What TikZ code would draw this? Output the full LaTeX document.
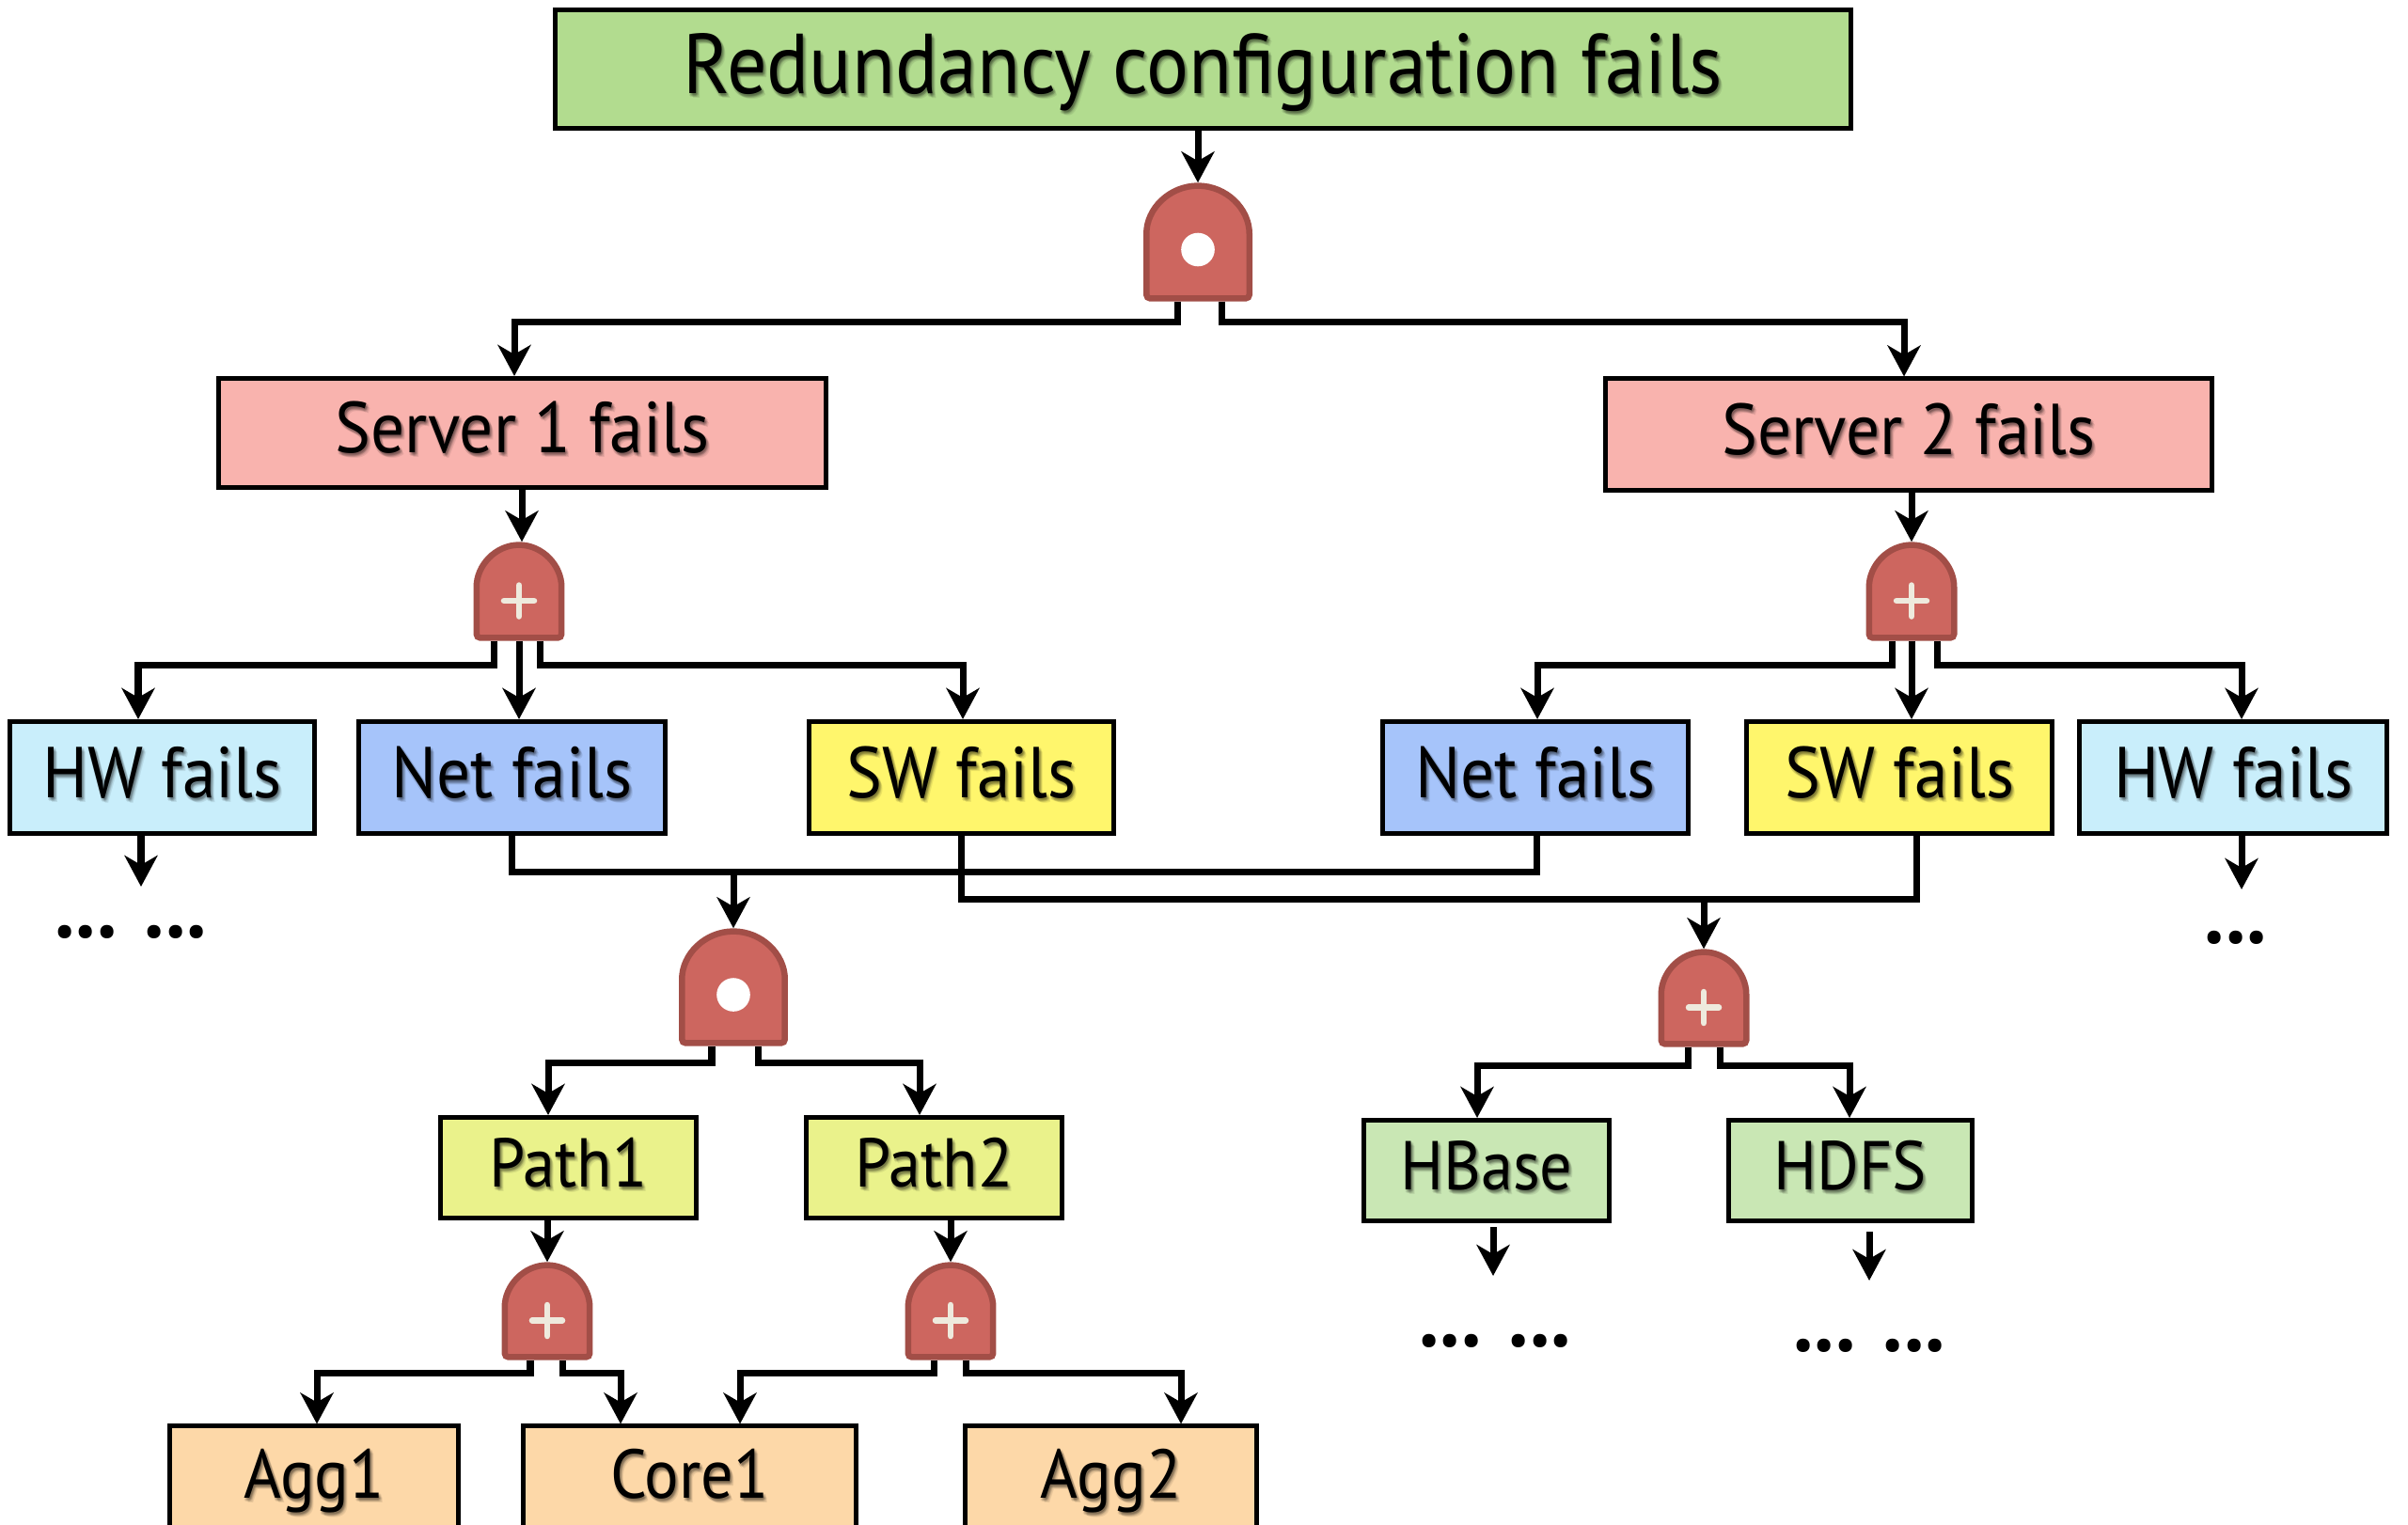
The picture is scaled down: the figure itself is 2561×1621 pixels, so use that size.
\documentclass[tikz,border=0pt]{standalone}
\usepackage{fontspec}
\setmainfont{PT Sans}[FakeStretch=0.93]
\usetikzlibrary{arrows.meta,calc}

\definecolor{cTop}{HTML}{B2DC8F}
\definecolor{cServer}{HTML}{F9B3AE}
\definecolor{cHW}{HTML}{C9EEFB}
\definecolor{cNet}{HTML}{A6C4FA}
\definecolor{cSW}{HTML}{FFF66C}
\definecolor{cPath}{HTML}{EAF28B}
\definecolor{cApp}{HTML}{C9E7B4}
\definecolor{cSwitch}{HTML}{FDD8A8}
\definecolor{cGate}{HTML}{CD665F}
\definecolor{cGateEdge}{HTML}{A24E47}
\definecolor{cPlus}{HTML}{EEEADD}

\tikzset{
  box/.style={draw=black, line width=0.05cm, inner sep=0pt,
    text height=16pt, text depth=4pt,
    font=\fontsize{21.8}{26}\selectfont},
  bigbox/.style={box, text height=18.8pt, text depth=4pt,
    font=\fontsize{25.7}{30}\selectfont},
  smallbox/.style={box, text height=15.4pt, text depth=4pt,
    font=\fontsize{20.9}{25}\selectfont},
  gatenode/.style={draw=none, fill=none, inner sep=0pt},
  wire/.style={line width=0.07cm},
  arr/.style={wire, -{Stealth[length=0.33cm,width=0.35cm,inset=0.1cm]}},
  gatebody/.style={fill=cGate, draw=cGateEdge, line width=0.065cm, rounded corners=0.04cm},
  plusbar/.style={draw=cPlus, line width=0.065cm, line cap=round},
  dots/.style={inner sep=0pt, font=\bfseries\fontsize{26.5}{30}\selectfont},
}

% labelled box with a soft drop shadow under its text
\newcommand\tnode[4]{%
  \node[#1] (#2) at #3 {#4};
  \foreach \dx/\dy [count=\k] in {1/2,2/3,3/4,2/1,0/3,3/2,1/4,4/5}
    \node[#1, draw=none, fill=none, text=black, text opacity=0.08]
      (#2-sh\k) at ([shift={(\dx*0.01cm,-\dy*0.01cm)}]#2.center) {#4};
}

% gate body: #1 name, #2 centre, #3 width (cm), #4 height (cm), #5 arch height (cm)
\newcommand\gatebody[5]{%
  \node[gatenode, minimum width=#3cm, minimum height=#4cm] (#1) at #2 {};
  \pgfmathsetmacro\gx{#3/2-0.033}%
  \pgfmathsetmacro\gy{#5-0.033}%
  \path[gatebody]
    ([shift={(-\gx cm,0.033cm)}]#1.south)
    -- ([shift={(-\gx cm,-#5cm)}]#1.north)
    arc[start angle=180, end angle=0, x radius=\gx cm, y radius=\gy cm]
    -- ([shift={(\gx cm,0.033cm)}]#1.south) -- cycle;
}
\newcommand\andgate[5]{%
  \gatebody{#1}{#2}{#3}{#4}{#5}%
  \fill[white] ([yshift=-0.08cm]#1.center) circle[radius=0.178cm];
}
\newcommand\orgate[5]{%
  \gatebody{#1}{#2}{#3}{#4}{#5}%
  \draw[plusbar] ([shift={(-0.16cm,-0.1cm)}]#1.center) -- ([shift={(0.16cm,-0.1cm)}]#1.center);
  \draw[plusbar] ([shift={(0cm,0.065cm)}]#1.center) -- ([shift={(0cm,-0.265cm)}]#1.center);
}

\begin{document}
\begin{tikzpicture}[x=0.01cm, y=-0.01cm]
\useasboundingbox (0,0) rectangle (2561,1621);
\clip (0,0) rectangle (2561,1621);

% boxes
\tnode{bigbox, fill=cTop, minimum width=13.77cm, minimum height=1.26cm}{top}{(1279.5,73.5)}{Redundancy configuration fails}
\tnode{box, fill=cServer, minimum width=6.45cm, minimum height=1.16cm}{s1}{(555.5,460.5)}{Server 1 fails}
\tnode{box, fill=cServer, minimum width=6.44cm, minimum height=1.18cm}{s2}{(2030,462)}{Server 2 fails}

\tnode{box, fill=cHW, minimum width=3.24cm, minimum height=1.19cm}{hw1}{(172.5,827)}{HW fails}
\tnode{box, fill=cNet, minimum width=3.25cm, minimum height=1.19cm}{net1}{(544.5,827)}{Net fails}
\tnode{box, fill=cSW, minimum width=3.23cm, minimum height=1.19cm}{sw1}{(1022.5,827)}{SW fails}
\tnode{box, fill=cNet, minimum width=3.24cm, minimum height=1.19cm}{net2}{(1633,827)}{Net fails}
\tnode{box, fill=cSW, minimum width=3.24cm, minimum height=1.19cm}{sw2}{(2020,827)}{SW fails}
\tnode{box, fill=cHW, minimum width=3.26cm, minimum height=1.19cm}{hw2}{(2375,827)}{HW fails}

\tnode{smallbox, fill=cPath, minimum width=2.72cm, minimum height=1.07cm}{p1}{(604.5,1242)}{Path1}
\tnode{smallbox, fill=cPath, minimum width=2.72cm, minimum height=1.07cm}{p2}{(993.5,1242)}{Path2}
\tnode{smallbox, fill=cApp, minimum width=2.60cm, minimum height=1.07cm}{hb}{(1581,1245)}{HBase}
\tnode{smallbox, fill=cApp, minimum width=2.58cm, minimum height=1.07cm}{hd}{(1968,1245)}{HDFS}

\tnode{smallbox, fill=cSwitch, minimum width=3.06cm, minimum height=1.13cm}{agg1}{(334,1573.5)}{Agg1}
\tnode{smallbox, fill=cSwitch, minimum width=3.53cm, minimum height=1.13cm}{core1}{(733.5,1573.5)}{Core1}
\tnode{smallbox, fill=cSwitch, minimum width=3.09cm, minimum height=1.13cm}{agg2}{(1181.5,1573.5)}{Agg2}

% gates
\andgate{g1}{(1274,257.5)}{1.16}{1.25}{0.58}
\orgate{g2}{(552,629)}{0.97}{1.04}{0.52}
\orgate{g3}{(2033,629)}{0.97}{1.04}{0.52}
\andgate{g4}{(780,1050)}{1.16}{1.24}{0.58}
\orgate{g5}{(1812,1061.5)}{0.97}{1.03}{0.52}
\orgate{g6}{(582,1394.5)}{0.97}{1.03}{0.52}
\orgate{g7}{(1011,1394.5)}{0.97}{1.03}{0.52}

% top level
\draw[arr] (top.south -| g1.north) -- (g1.north);
\draw[arr] ([xshift=-0.22cm]g1.south) -- ++(0,22) -| (547,0 |- s1.north);
\draw[arr] ([xshift=0.25cm]g1.south) -- ++(0,22) -| (2025,0 |- s2.north);

% server 1
\draw[arr] (555,0 |- s1.south) -- (555,0 |- g2.north);
\draw[arr] ([xshift=-0.26cm]g2.south) -- ++(0,26) -| (147,0 |- hw1.north);
\draw[arr] (g2.south) -- (g2.south |- net1.north);
\draw[arr] ([xshift=0.22cm]g2.south) -- ++(0,26) -| (1024,0 |- sw1.north);

% server 2
\draw[arr] (s2.south -| g3.north) -- (g3.north);
\draw[arr] ([xshift=-0.21cm]g3.south) -- ++(0,26) -| (1635,0 |- net2.north);
\draw[arr] (g3.south) -- (g3.south |- sw2.north);
\draw[arr] ([xshift=0.27cm]g3.south) -- ++(0,26) -| (2384,0 |- hw2.north);

% shared network and software causes
\draw[wire] (net1.south) -- ++(0,38) -| (1634,0 |- net2.south);
\draw[wire] (sw1.south) -- ++(0,67) -| (2038,0 |- sw2.south);
\draw[arr] (g4.north |- 0,924) -- (g4.north);
\draw[arr] (g5.north |- 0,953) -- (g5.north);

% network paths
\draw[arr] ([xshift=-0.23cm]g4.south) -- ++(0,18) -| (583,0 |- p1.north);
\draw[arr] ([xshift=0.26cm]g4.south) -- ++(0,18) -| (978,0 |- p2.north);
\draw[arr] (g6.north |- p1.south) -- (g6.north);
\draw[arr] (g7.north |- p2.south) -- (g7.north);
\draw[arr] ([xshift=-0.18cm]g6.south) -- ++(0,14) -| (337,0 |- agg1.north);
\draw[arr] ([xshift=0.16cm]g6.south) -- ++(0,14) -| (660,0 |- core1.north);
\draw[arr] ([xshift=-0.18cm]g7.south) -- ++(0,14) -| (787,0 |- core1.north);
\draw[arr] ([xshift=0.16cm]g7.south) -- ++(0,14) -| (1256,0 |- agg2.north);

% software stack
\draw[arr] ([xshift=-0.17cm]g5.south) -- ++(0,20) -| (1571,0 |- hb.north);
\draw[arr] ([xshift=0.17cm]g5.south) -- ++(0,20) -| (1967,0 |- hd.north);

% open-ended branches
\coordinate (hw1-end) at (150,943);
\coordinate (hw2-end) at (2384,946);
\coordinate (hb-end) at (1588,1357);
\coordinate (hd-end) at (1988,1362);
\draw[arr] (150,0 |- hw1.south) -- (hw1-end);
\draw[arr] (2384,0 |- hw2.south) -- (hw2-end);
\draw[arr] ([yshift=-0.04cm]1588,0 |- hb.south) -- (hb-end);
\draw[arr] ([yshift=-0.09cm]1988,0 |- hd.south) -- (hd-end);

\node[dots] (hw1-more) at (139,991) {... ...};
\node[dots] (hw2-more) at (2378,997) {...};
\node[dots] (hb-more) at (1590,1426) {... ...};
\node[dots] (hd-more) at (1988,1431) {... ...};
\end{tikzpicture}
\end{document}
